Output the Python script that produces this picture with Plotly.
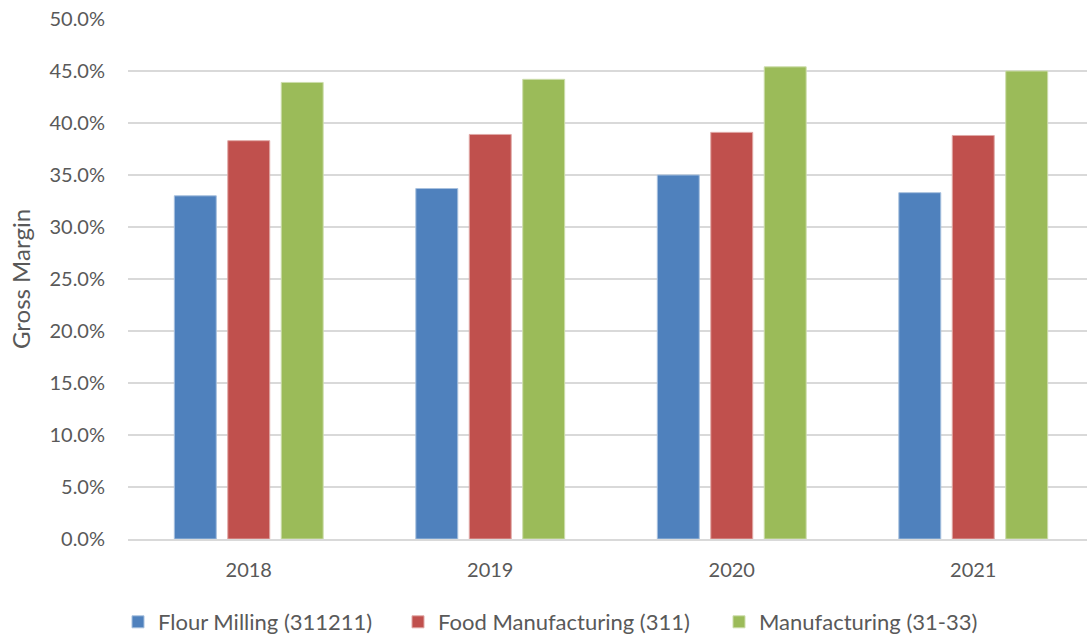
import plotly.graph_objects as go

years = ["2018", "2019", "2020", "2021"]
series_names = ["Flour Milling (311211)", "Food Manufacturing (311)", "Manufacturing (31-33)"]
flour_milling = [0.330, 0.337, 0.350, 0.333]
food_manufacturing = [0.383, 0.389, 0.391, 0.388]
manufacturing = [0.439, 0.442, 0.454, 0.450]
y_ticks = [0.0, 0.05, 0.10, 0.15, 0.20, 0.25, 0.30, 0.35, 0.40, 0.45, 0.50]

colors = ["#4F81BD", "#C0504D", "#9BBB59"]
edge = ["#A7C0DE", "#E0A8A6", "#CDDDAC"]
legend_ids = ["legend", "legend2", "legend3"]
legend_x = [118, 398, 719]
FONT = "Lato"
GRAY = "#595959"
W, H = 1087, 636

fig = go.Figure()
for name, vals, c, e, lg in zip(series_names, [flour_milling, food_manufacturing, manufacturing], colors, edge, legend_ids):
    fig.add_trace(go.Bar(x=years, y=vals, name=name, legend=lg,
                         marker=dict(color=c, line=dict(color=e, width=1))))

legend_common = dict(orientation="h", xref="container", yref="container", xanchor="left",
                     y=14 / H, yanchor="middle", font=dict(size=22, color=GRAY, family=FONT),
                     itemwidth=30, bgcolor="rgba(0,0,0,0)")
layout_legends = {lg: dict(legend_common, x=lx / W) for lg, lx in zip(legend_ids, legend_x)}

fig.update_layout(
    width=W, height=H,
    margin=dict(l=128, r=0, t=19, b=97, autoexpand=False),
    paper_bgcolor="white", plot_bgcolor="white",
    barmode="group", bargap=0.336, bargroupgap=0.215,
    font=dict(family=FONT, size=20, color=GRAY),
    showlegend=True,
    **layout_legends,
)
fig.update_xaxes(range=[-0.5, 3.471], showgrid=False, showline=True, linecolor="#D9D9D9", linewidth=2,
                 ticks="", tickfont=dict(size=20, color=GRAY), ticklabelstandoff=12)
fig.update_yaxes(range=[0, 0.5], tickvals=y_ticks, tickformat=".1%", showgrid=True, gridcolor="#D9D9D9",
                 gridwidth=2, zeroline=False, showline=False, ticks="", ticklabelstandoff=22,
                 tickfont=dict(size=20, color=GRAY),
                 title=dict(text="Gross Margin", font=dict(size=24, color=GRAY), standoff=12))

fig.write_html("out.html", config={"displayModeBar": False},
               post_script="document.body.style.margin='0';")
